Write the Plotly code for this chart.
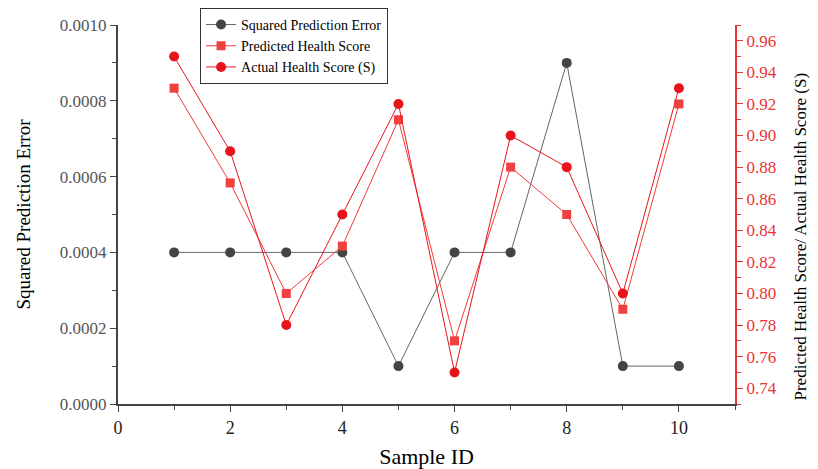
import plotly.graph_objects as go

sample_id = [1, 2, 3, 4, 5, 6, 7, 8, 9, 10]
squared_error = [0.0004, 0.0004, 0.0004, 0.0004, 0.0001, 0.0004, 0.0004, 0.0009, 0.0001, 0.0001]
predicted = [0.93, 0.87, 0.80, 0.83, 0.91, 0.77, 0.88, 0.85, 0.79, 0.92]
actual = [0.95, 0.89, 0.78, 0.85, 0.92, 0.75, 0.90, 0.88, 0.80, 0.93]

FONT = "Liberation Serif"
RED = "#ee3333"
GRAY = "#555555"

fig = go.Figure()
fig.add_trace(go.Scatter(x=sample_id, y=squared_error, name="Squared Prediction Error",
                         mode="lines+markers", line=dict(color="#666666", width=1),
                         marker=dict(symbol="circle", size=10, color="#444444")))
fig.add_trace(go.Scatter(x=sample_id, y=predicted, name="Predicted Health Score",
                         mode="lines+markers", yaxis="y2", line=dict(color="#f03a3a", width=1),
                         marker=dict(symbol="square", size=9, color="#f04040")))
fig.add_trace(go.Scatter(x=sample_id, y=actual, name="Actual Health Score (S)",
                         mode="lines+markers", yaxis="y2", line=dict(color="#e8141b", width=1),
                         marker=dict(symbol="circle", size=10, color="#e8141b")))

fig.update_layout(
    width=810, height=461,
    margin=dict(l=110, r=83, t=17, b=65, autoexpand=False),
    plot_bgcolor="white", paper_bgcolor="white",
    font=dict(family=FONT, color="black"),
    showlegend=True,
    legend=dict(x=0.133, y=1.045, xanchor="left", yanchor="top",
                bgcolor="white", bordercolor="#333333", borderwidth=1,
                font=dict(family=FONT, size=14, color="black"),
                tracegroupgap=0, itemwidth=30),
    xaxis=dict(range=[0, 11], tickvals=[0, 2, 4, 6, 8, 10], showgrid=False, zeroline=False,
               showline=True, linecolor="#444444", linewidth=2, ticks="outside", ticklen=6,
               tickcolor="#444444", tickfont=dict(family=FONT, size=18, color="#222222"),
               minor=dict(dtick=1, ticks="outside", ticklen=4, tickcolor="#444444"),
               automargin=False,
               title=dict(text="Sample ID", font=dict(family=FONT, size=22, color="black"), standoff=12)),
    yaxis=dict(range=[0, 0.001], tickvals=[0, 0.0002, 0.0004, 0.0006, 0.0008, 0.001],
               ticktext=["0.0000", "0.0002", "0.0004", "0.0006", "0.0008", "0.0010"],
               showgrid=False, zeroline=False, showline=True, linecolor="#444444", linewidth=2,
               ticks="outside", ticklen=6, tickcolor="#444444",
               tickfont=dict(family=FONT, size=17, color=GRAY),
               minor=dict(dtick=0.0001, ticks="outside", ticklen=4, tickcolor="#444444"),
               automargin=False,
               title=dict(text="Squared Prediction Error", font=dict(family=FONT, size=19, color="black"), standoff=24)),
    yaxis2=dict(range=[0.73, 0.97], overlaying="y", side="right", anchor="x",
                tickvals=[0.74, 0.76, 0.78, 0.80, 0.82, 0.84, 0.86, 0.88, 0.90, 0.92, 0.94, 0.96],
                ticktext=["0.74", "0.76", "0.78", "0.80", "0.82", "0.84", "0.86", "0.88", "0.90", "0.92", "0.94", "0.96"],
                showgrid=False, zeroline=False, showline=True, linecolor=RED, linewidth=2,
                ticks="outside", ticklen=6, tickcolor=RED,
                tickfont=dict(family=FONT, size=17, color=RED),
                minor=dict(dtick=0.01, ticks="outside", ticklen=4, tickcolor=RED),
                automargin=False),
)

fig.add_annotation(text="Predicted Health Score/ Actual Health Score (S)",
                   xref="paper", yref="paper", x=1.106, y=0.443,
                   xanchor="center", yanchor="middle", textangle=-90, showarrow=False,
                   font=dict(family=FONT, size=17, color="black"))

fig.write_html("out.html")
